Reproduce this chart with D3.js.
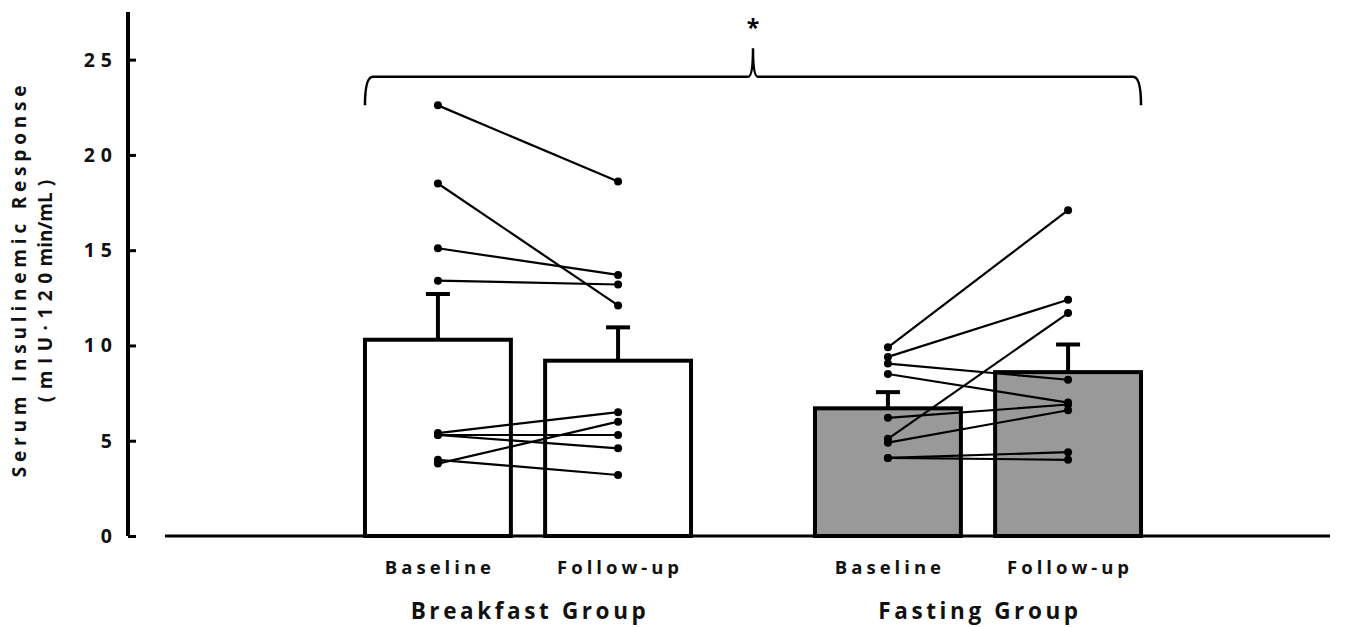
<!DOCTYPE html>
<html>
<head>
<script type="text/javascript" src="https://d3js.org/d3.v7.min.js"></script>
<title>Serum insulinemic response</title>
<style>
body { margin:0; background:#fff; }
text { font-family: "Open Sans", Lato, sans-serif; font-weight:bold; fill:#111; }
</style>
</head>
<body>
<div id="chart"></div>
<script type="text/javascript">
(function(){

// data
var groups = ["Breakfast Group", "Fasting Group"];
var visits = ["Baseline", "Follow-up"];
var breakfastMeans = [10.3, 9.2];
var breakfastSem = [2.4, 1.75];
var fastingMeans = [6.7, 8.6];
var fastingSem = [0.85, 1.45];
var breakfastBaseline = [22.6, 18.5, 15.1, 13.4, 5.4, 5.3, 5.3, 4.0, 3.8];
var breakfastFollowup = [18.6, 12.1, 13.7, 13.2, 6.5, 5.3, 4.6, 3.2, 6.0];
var fastingBaseline = [9.9, 9.4, 9.05, 8.5, 6.2, 5.1, 4.9, 4.1, 4.1];
var fastingFollowup = [17.1, 12.4, 8.2, 7.0, 6.9, 11.7, 6.6, 4.4, 4.0];
var yTicks = [0, 5, 10, 15, 20, 25];

var w = 1345, h = 627;
var svg = d3.select("#chart").append("svg")
    .attr("width", w).attr("height", h);

var y = d3.scaleLinear().domain([0, 27.5]).range([536, 12]);
var xGroup = d3.scaleBand().domain(groups).range([303, 1203]).padding(0);
var xVisit = d3.scaleBand().domain(visits).range([0, xGroup.bandwidth()])
    .paddingInner(0.19).paddingOuter(0.344);

var bars = [
  {g: groups[0], v: visits[0], m: breakfastMeans[0], e: breakfastSem[0], fill: "#fff"},
  {g: groups[0], v: visits[1], m: breakfastMeans[1], e: breakfastSem[1], fill: "#fff"},
  {g: groups[1], v: visits[0], m: fastingMeans[0], e: fastingSem[0], fill: "#999"},
  {g: groups[1], v: visits[1], m: fastingMeans[1], e: fastingSem[1], fill: "#999"}
];
function cx(g, v) { return xGroup(g) + xVisit(v) + xVisit.bandwidth()/2; }

// error bars (behind the bars)
svg.selectAll(".err").data(bars).enter().append("line")
  .attr("x1", function(d){ return cx(d.g, d.v); })
  .attr("x2", function(d){ return cx(d.g, d.v); })
  .attr("y1", function(d){ return y(d.m); })
  .attr("y2", function(d){ return y(d.m + d.e); })
  .attr("stroke", "#000").attr("stroke-width", 4);
svg.selectAll(".cap").data(bars).enter().append("line")
  .attr("x1", function(d){ return cx(d.g, d.v) - 12; })
  .attr("x2", function(d){ return cx(d.g, d.v) + 12; })
  .attr("y1", function(d){ return y(d.m + d.e); })
  .attr("y2", function(d){ return y(d.m + d.e); })
  .attr("stroke", "#000").attr("stroke-width", 4);

svg.selectAll(".bar").data(bars).enter().append("rect")
  .attr("x", function(d){ return xGroup(d.g) + xVisit(d.v); })
  .attr("y", function(d){ return y(d.m); })
  .attr("width", xVisit.bandwidth())
  .attr("height", function(d){ return y(0) - y(d.m); })
  .attr("fill", function(d){ return d.fill; })
  .attr("stroke", "#000").attr("stroke-width", 4);

// individual subjects
var pairs = [];
breakfastBaseline.forEach(function(b, i){ pairs.push({g: groups[0], a: b, b: breakfastFollowup[i]}); });
fastingBaseline.forEach(function(b, i){ pairs.push({g: groups[1], a: b, b: fastingFollowup[i]}); });

svg.selectAll(".pair").data(pairs).enter().append("line")
  .attr("x1", function(d){ return cx(d.g, visits[0]); })
  .attr("x2", function(d){ return cx(d.g, visits[1]); })
  .attr("y1", function(d){ return y(d.a); })
  .attr("y2", function(d){ return y(d.b); })
  .attr("stroke", "#000").attr("stroke-width", 2.2);

var dots = [];
pairs.forEach(function(p){
  dots.push({x: cx(p.g, visits[0]), v: p.a});
  dots.push({x: cx(p.g, visits[1]), v: p.b});
});
svg.selectAll(".dot").data(dots).enter().append("circle")
  .attr("cx", function(d){ return d.x; })
  .attr("cy", function(d){ return y(d.v); })
  .attr("r", 4).attr("fill", "#000");

// axes
var yAxis = d3.axisRight(y).tickValues(yTicks).tickSize(8).tickFormat("");
var gy = svg.append("g").attr("transform", "translate(128,0)").call(yAxis);
gy.select(".domain").attr("d", "M0," + y(0) + "V12").attr("stroke", "#000").attr("stroke-width", 4);
gy.selectAll(".tick line").attr("stroke", "#000").attr("stroke-width", 3);

svg.selectAll(".ylab").data(yTicks).enter().append("text")
  .attr("x", 118).attr("y", function(d){ return y(d) + 7; })
  .attr("text-anchor", "end").style("font-size", "19.5px").style("letter-spacing", "6px")
  .text(function(d){ return d; });

svg.append("line").attr("x1", 165).attr("x2", 1330)
  .attr("y1", y(0)).attr("y2", y(0))
  .attr("stroke", "#000").attr("stroke-width", 3);

svg.selectAll(".xlab").data(bars).enter().append("text")
  .attr("x", function(d){ return cx(d.g, d.v) + 2; })
  .attr("y", 574).attr("text-anchor", "middle")
  .style("font-size", "18.5px").style("letter-spacing", "4px")
  .text(function(d){ return d.v; });

svg.selectAll(".glab").data(groups).enter().append("text")
  .attr("x", function(d){ return xGroup(d) + xGroup.bandwidth()/2 + 2; })
  .attr("y", 619).attr("text-anchor", "middle")
  .style("font-size", "22.5px").style("letter-spacing", "3.6px")
  .text(function(d){ return d; });

// y title
var yt = svg.append("g").attr("transform", "translate(26,279) rotate(-90)");
yt.append("text").attr("text-anchor", "middle").style("font-size", "19px").style("letter-spacing", "4.8px")
  .text("Serum Insulinemic Response");
var t2 = yt.append("text").attr("x", -12).attr("y", 26).attr("text-anchor", "middle").style("font-size", "19px");
t2.append("tspan").style("letter-spacing", "6.5px").text("(mIU·120");
t2.append("tspan").style("letter-spacing", "0px").text("min/mL");
t2.append("tspan").style("letter-spacing", "0px").attr("dx", 6).text(")");

// significance brace
var bl = xGroup(groups[0]) + xVisit(visits[0]);
var br = xGroup(groups[1]) + xVisit(visits[1]) + xVisit.bandwidth();
var bm = (xGroup(groups[0]) + xGroup(groups[1]) + xGroup.bandwidth()) / 2;
var yl = y(22.6), yh = y(24.1), yp = y(25.6);
var p = d3.path();
p.moveTo(bl, yl);
p.quadraticCurveTo(bl, yh, bl + 8, yh);
p.lineTo(bm - 5, yh);
p.quadraticCurveTo(bm, yh, bm, yp);
p.quadraticCurveTo(bm, yh, bm + 5, yh);
p.lineTo(br - 8, yh);
p.quadraticCurveTo(br, yh, br, yl);
svg.append("path").attr("d", p.toString()).attr("fill", "none")
  .attr("stroke", "#000").attr("stroke-width", 2.5);
svg.append("text").attr("x", bm).attr("y", 36).attr("text-anchor", "middle")
  .style("font-size", "23px").style("fill", "#000").text("*");

})();
</script>
</body>
</html>
